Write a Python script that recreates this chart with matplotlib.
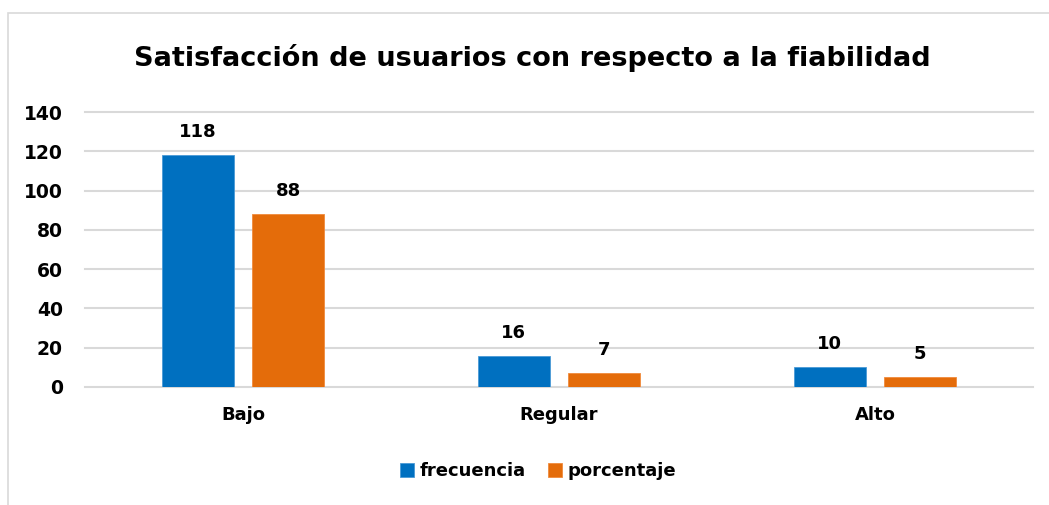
import numpy as np
import matplotlib.pyplot as plt
from matplotlib.patches import Rectangle

categories = ["Bajo", "Regular", "Alto"]
frecuencia = [118, 16, 10]
porcentaje = [88, 7, 5]
yticks = [0, 20, 40, 60, 80, 100, 120, 140]

blue = "#0070C0"
orange = "#E46C0A"
grid = "#d9d9d9"

plt.rcParams['font.family'] = ['DejaVu Sans']

fig = plt.figure(figsize=(10.49, 5.05), dpi=100)
fig.patches.append(Rectangle((8/1049, -0.1), 1.2, 1.1 - 13/505, transform=fig.transFigure,
                             fill=False, edgecolor=grid, lw=1.2))
ax = fig.add_axes([85/1049, 1 - 387/505, 948/1049, 275/505])

x = np.arange(len(categories))
w = 0.228
b1 = ax.bar(x - 0.143, frecuencia, w, color=blue, label="frecuencia", edgecolor="#4a9ad6", lw=0.6, zorder=3)
b2 = ax.bar(x + 0.143, porcentaje, w, color=orange, label="porcentaje", edgecolor="#f08a3c", lw=0.6, zorder=3)

for bars, vals in ((b1, frecuencia), (b2, porcentaje)):
    for r, v in zip(bars, vals):
        ax.annotate(str(v), (r.get_x() + r.get_width()/2, r.get_height()),
                    xytext=(0, 10), textcoords="offset points", ha="center", va="bottom",
                    fontsize=13, fontweight="bold")

ax.set_xlim(-0.5, 2.5)
ax.set_ylim(0, 140)
ax.set_yticks(yticks)
ax.set_xticks(x)
ax.set_xticklabels(categories, fontsize=13, fontweight="bold")
for t in ax.get_yticklabels():
    t.set_fontsize(13.5)
    t.set_fontweight("bold")
ax.yaxis.grid(True, color=grid, lw=1.5, zorder=0)
for gl in ax.get_ygridlines():
    gl.set_clip_on(False)
ax.set_axisbelow(True)
for s in ax.spines.values():
    s.set_visible(False)
ax.tick_params(axis="both", length=0)
ax.tick_params(axis="x", pad=14)
ax.tick_params(axis="y", pad=16)

fig.text(532/1049, 1 - 58/505, "Satisfacción de usuarios con respecto a la fiabilidad",
         ha="center", va="center", fontsize=19.5, fontweight="bold")

leg = fig.legend(handles=[b1, b2], loc="center", bbox_to_anchor=(538/1049, 1 - 471/505), ncol=2,
                 frameon=False, prop={"size": 13, "weight": "bold"}, handlelength=0.8, handleheight=0.8,
                 handletextpad=0.3, columnspacing=1.2)

fig.savefig("out.png", dpi=100)
